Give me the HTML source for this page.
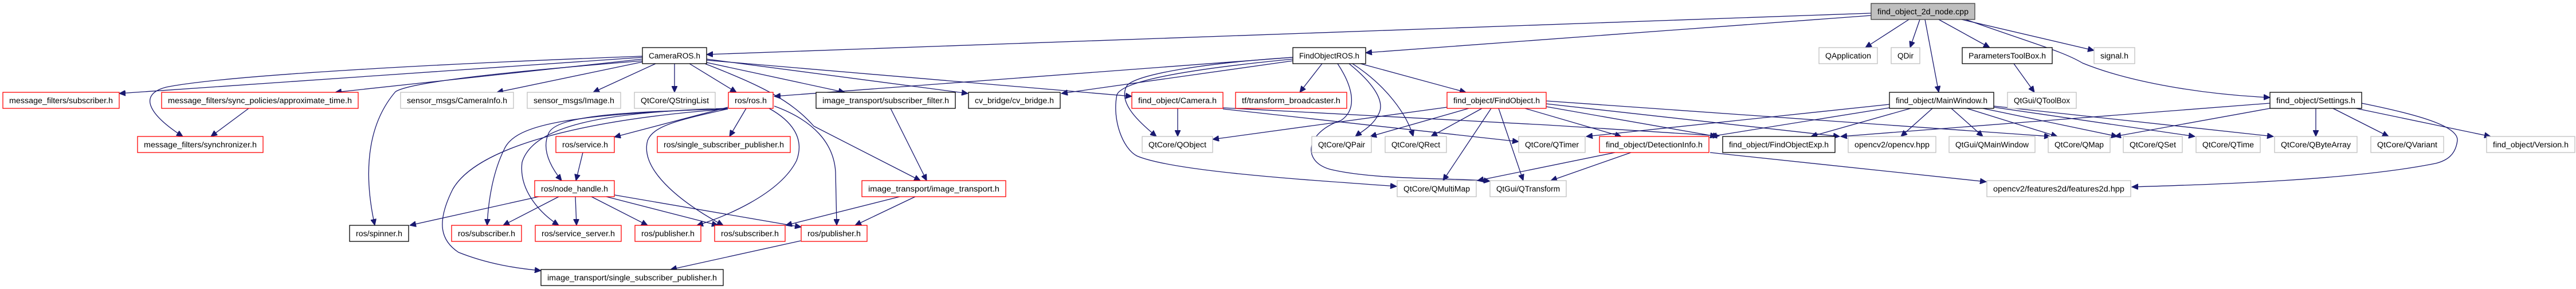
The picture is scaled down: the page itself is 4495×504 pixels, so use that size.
<!DOCTYPE html>
<html><head><meta charset="utf-8"><style>
html,body{margin:0;padding:0;background:#fff;}
svg{display:block;}
text{font-family:"Liberation Sans","DejaVu Sans",sans-serif;font-size:13.5px;fill:#000;}
.e{fill:none;stroke:#191970;stroke-width:1.3;marker-end:url(#a);}
</style></head><body>
<svg width="4495" height="504" viewBox="0 0 4495 504" xmlns="http://www.w3.org/2000/svg">
<defs><marker id="a" markerUnits="userSpaceOnUse" markerWidth="12" markerHeight="10" refX="11" refY="5" orient="auto"><path d="M0,0 L11,5 L0,10 z" fill="#191970" stroke="#191970"/></marker></defs>
<g>
<path class="e" d="M3265,23 L1233,95"/>
<path class="e" d="M3265,27 L2383,92"/>
<path class="e" d="M3331,34 L3255,83"/>
<path class="e" d="M3350,34 L3333,83"/>
<path class="e" d="M3359,34 L3383,161"/>
<path class="e" d="M3383,34 L3472,83"/>
<path class="e" d="M3423,34 L3654,88"/>
<path class="e" d="M3430,34 C3560,80 3600,90 3634,110 C3720,145 3850,165 3961,170"/>
<path class="e" d="M3514,111 L3550,161"/>
<path class="e" d="M1121,100 L208,163"/>
<path class="e" d="M1121,103 L585,161"/>
<path class="e" d="M1121,98 C800,110 400,130 290,152 C240,165 260,200 319,238"/>
<path class="e" d="M1121,108 L867,161"/>
<path class="e" d="M1121,106 C950,120 720,140 690,160 C630,230 640,330 654,393"/>
<path class="e" d="M1144,111 L1035,161"/>
<path class="e" d="M1177,111 L1177,161"/>
<path class="e" d="M1203,111 L1285,161"/>
<path class="e" d="M1233,109 L1474,161"/>
<path class="e" d="M1233,103 L1689,163"/>
<path class="e" d="M1230,111 C1330,150 1380,175 1420,220 L1606,315"/>
<path class="e" d="M1233,105 L1975,168"/>
<path class="e" d="M2256,100 L1351,168"/>
<path class="e" d="M2256,106 L1852,163"/>
<path class="e" d="M2256,100 C2100,110 1980,130 1966,150 C1950,180 1990,215 2018,238"/>
<path class="e" d="M2256,103 C2080,120 1960,140 1949,165 C1940,210 1960,260 1984,272 C2050,300 2300,315 2437,325"/>
<path class="e" d="M2307,111 L2268,161"/>
<path class="e" d="M2354,111 C2390,140 2420,175 2405,200 C2395,220 2375,230 2365,238"/>
<path class="e" d="M2360,111 C2420,150 2455,200 2466,238"/>
<path class="e" d="M2374,111 L2558,161"/>
<path class="e" d="M2334,111 C2360,150 2370,190 2340,210 C2280,230 2270,280 2320,295 C2400,315 2550,310 2600,316"/>
<path class="e" d="M2055,189 L2055,238"/>
<path class="e" d="M2134,188 L2700,218 L3000,237"/>
<path class="e" d="M2134,190 L2650,247"/>
<path class="e" d="M2525,187 L2116,243"/>
<path class="e" d="M2563,189 L2391,238"/>
<path class="e" d="M2586,189 L2497,238"/>
<path class="e" d="M2602,189 L2518,315"/>
<path class="e" d="M2615,189 L2658,315"/>
<path class="e" d="M2661,189 L2829,238"/>
<path class="e" d="M2698,186 L2995,238"/>
<path class="e" d="M2698,181 L3210,238"/>
<path class="e" d="M2698,176 L3578,238"/>
<path class="e" d="M3297,182 L2768,238"/>
<path class="e" d="M3297,188 L2985,238"/>
<path class="e" d="M3334,189 L3160,238"/>
<path class="e" d="M3372,189 L3317,238"/>
<path class="e" d="M3405,189 L3460,238"/>
<path class="e" d="M3432,189 L3590,238"/>
<path class="e" d="M3460,189 L3695,238"/>
<path class="e" d="M3479,187 L3830,238"/>
<path class="e" d="M3479,185 L3967,238"/>
<path class="e" d="M3961,189 L3690,238"/>
<path class="e" d="M3961,180 L3212,238"/>
<path class="e" d="M4041,189 L4041,238"/>
<path class="e" d="M4071,189 L4168,238"/>
<path class="e" d="M4111,189 L4346,238"/>
<path class="e" d="M4121,180 C4220,200 4290,220 4288,245 C4285,270 4270,280 4250,285 C4100,315 3850,322 3720,326"/>
<path class="e" d="M2984,266 L3466,317"/>
<path class="e" d="M2818,266 L2578,315"/>
<path class="e" d="M2846,266 L2706,315"/>
<path class="e" d="M1270,187 L1072,239"/>
<path class="e" d="M1302,189 L1273,238"/>
<path class="e" d="M1270,190 C1100,195 970,200 957,233 C945,260 960,290 980,315"/>
<path class="e" d="M1270,189 C1050,195 930,220 911,283 C905,330 940,370 975,393"/>
<path class="e" d="M1270,189 C1000,200 900,215 880,260 C860,300 852,350 850,393"/>
<path class="e" d="M1342,189 C1380,210 1405,240 1390,280 C1360,340 1260,380 1216,393"/>
<path class="e" d="M1270,190 C1180,210 1140,220 1130,245 C1115,300 1200,360 1262,393"/>
<path class="e" d="M1351,185 C1420,210 1455,250 1458,300 L1460,393"/>
<path class="e" d="M1270,190 C1000,210 830,260 790,330 C760,390 770,420 800,440 C850,460 900,468 944,472"/>
<path class="e" d="M1017,266 L1005,315"/>
<path class="e" d="M1004,343 L1006,393"/>
<path class="e" d="M1032,343 L1130,393"/>
<path class="e" d="M1058,343 L1253,393"/>
<path class="e" d="M1072,340 L1398,396"/>
<path class="e" d="M940,343 L715,393"/>
<path class="e" d="M975,343 L878,393"/>
<path class="e" d="M1554,189 L1617,315"/>
<path class="e" d="M1570,343 L1371,393"/>
<path class="e" d="M1597,343 L1492,393"/>
<path class="e" d="M1397,420 L1170,470"/>
<path class="e" d="M434,189 L368,238"/>
</g>
<g id="nodes" stroke-width="1.3"></g>
</svg>
<script>
var N=[
[3265,3446,6,'n','find_object_2d_node.cpp'],
[1121,1233,83,'k','CameraROS.h'],[2256,2383,83,'k','FindObjectROS.h'],[3174,3276,83,'g','QApplication'],[3300,3350,83,'g','QDir'],[3424,3581,83,'k','ParametersToolBox.h'],[3654,3725,83,'g','signal.h'],
[5,208,161,'r','message_filters/subscriber.h'],[282,625,161,'r','message_filters/sync_policies/approximate_time.h'],[699,896,161,'g','sensor_msgs/CameraInfo.h'],[920,1083,161,'g','sensor_msgs/Image.h'],[1107,1248,161,'g','QtCore/QStringList'],[1271,1349,161,'r','ros/ros.h'],[1424,1667,161,'k','image_transport/subscriber_filter.h'],[1690,1850,161,'k','cv_bridge/cv_bridge.h'],[1975,2134,161,'r','find_object/Camera.h'],[2156,2350,161,'r','tf/transform_broadcaster.h'],[2525,2698,161,'r','find_object/FindObject.h'],[3297,3479,161,'k','find_object/MainWindow.h'],[3503,3623,161,'g','QtGui/QToolBox'],[3961,4121,161,'k','find_object/Settings.h'],
[240,459,238,'r','message_filters/synchronizer.h'],[970,1072,238,'r','ros/service.h'],[1147,1379,238,'r','ros/single_subscriber_publisher.h'],[1993,2116,238,'g','QtCore/QObject'],[2289,2393,238,'g','QtCore/QPair'],[2417,2524,238,'g','QtCore/QRect'],[2650,2766,238,'g','QtCore/QTimer'],[2791,2982,238,'r','find_object/DetectionInfo.h'],[3006,3202,238,'k','find_object/FindObjectExp.h'],[3225,3378,238,'g','opencv2/opencv.hpp'],[3401,3551,238,'g','QtGui/QMainWindow'],[3574,3682,238,'g','QtCore/QMap'],[3705,3808,238,'g','QtCore/QSet'],[3832,3944,238,'g','QtCore/QTime'],[3969,4113,238,'g','QtCore/QByteArray'],[4137,4264,238,'g','QtCore/QVariant'],[4339,4493,238,'g','find_object/Version.h'],
[933,1072,315,'r','ros/node_handle.h'],[1504,1755,315,'r','image_transport/image_transport.h'],[2438,2576,315,'g','QtCore/QMultiMap'],[2600,2733,315,'g','QtGui/QTransform'],[3467,3718,315,'g','opencv2/features2d/features2d.hpp'],
[610,713,393,'k','ros/spinner.h'],[788,910,393,'r','ros/subscriber.h'],[934,1084,393,'r','ros/service_server.h'],[1108,1223,393,'r','ros/publisher.h'],[1247,1370,393,'r','ros/subscriber.h'],[1398,1513,393,'r','ros/publisher.h'],
[944,1262,470,'k','image_transport/single_subscriber_publisher.h']];
var g=document.getElementById('nodes'),ns='http://www.w3.org/2000/svg';
N.forEach(function(n){var r=document.createElementNS(ns,'rect');r.setAttribute('x',n[0]);r.setAttribute('y',n[2]);r.setAttribute('width',n[1]-n[0]);r.setAttribute('height',28);
var c={n:'#404040',k:'#000000',g:'#bfbfbf',r:'#ff0000'}[n[3]];r.setAttribute('stroke',c);r.setAttribute('fill',n[3]=='n'?'#bfbfbf':'#ffffff');g.appendChild(r);
var t=document.createElementNS(ns,'text');t.setAttribute('x',n[0]+11);t.setAttribute('y',n[2]+19);t.setAttribute('textLength',n[1]-n[0]-22);t.setAttribute('lengthAdjust','spacingAndGlyphs');t.textContent=n[4];g.appendChild(t);});
</script>
</body></html>
